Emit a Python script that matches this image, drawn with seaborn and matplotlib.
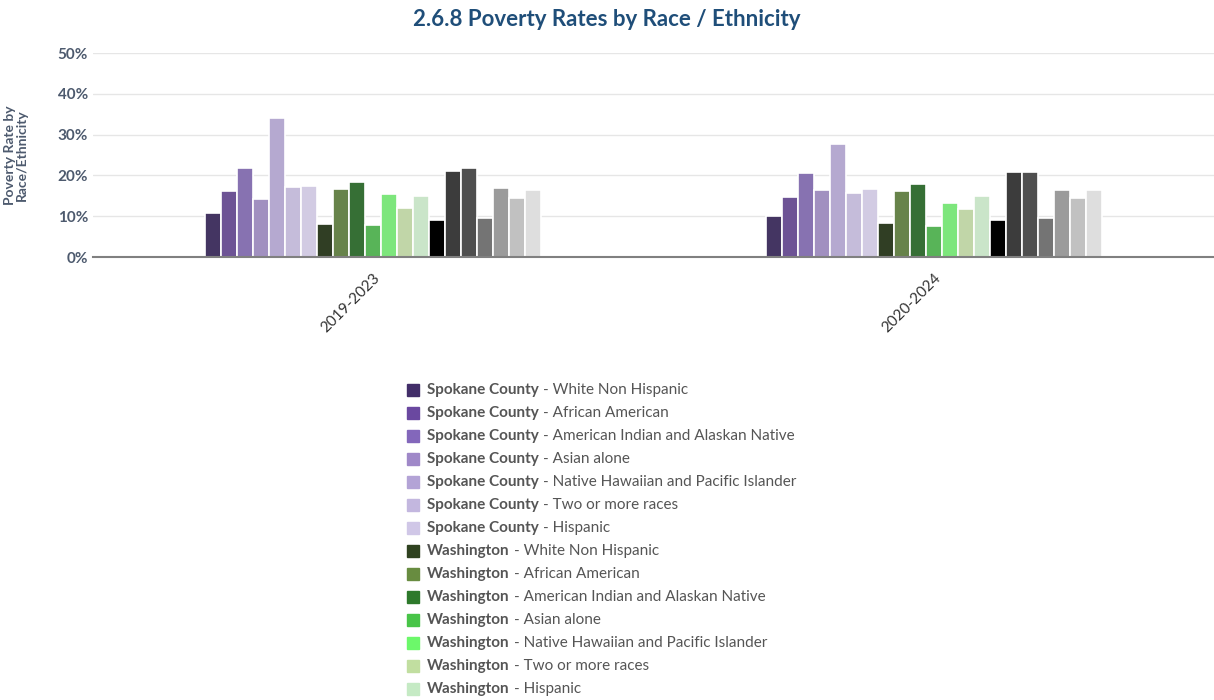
import pandas as pd
import seaborn as sns
import matplotlib.pyplot as plt
from matplotlib.ticker import PercentFormatter

periods = ['2019-2023', '2020-2024']
regions = ['Spokane County', 'Washington', 'United States']
races = ['White Non Hispanic', 'African American', 'American Indian and Alaskan Native',
         'Asian alone', 'Native Hawaiian and Pacific Islander', 'Two or more races', 'Hispanic']

values_2019 = [10.7, 16.1, 21.9, 14.1, 34.0, 17.1, 17.3,
               8.0, 16.6, 18.5, 7.8, 15.4, 12.0, 14.9,
               9.0, 21.1, 21.7, 9.6, 16.8, 14.4, 16.5]
values_2020 = [10.1, 14.6, 20.6, 16.3, 27.6, 15.8, 16.6,
               8.3, 16.1, 17.9, 7.7, 13.3, 11.7, 14.9,
               9.0, 20.9, 20.9, 9.6, 16.5, 14.4, 16.5]

colors = ['#422e69', '#6a48a0', '#8367bb', '#9f88c8', '#b3a3d6', '#c3b7df', '#d0c7e7',
          '#2f4220', '#688c40', '#2d792b', '#48c448', '#6cf86a', '#c1dea0', '#c5eac4',
          '#000000', '#3c3c3c', '#4f4f4f', '#747474', '#9b9b9b', '#c1c1c1', '#dedede']

series = [f'{r} - {s}' for r in regions for s in races]
df = pd.DataFrame({
    'period': [periods[0]] * 21 + [periods[1]] * 21,
    'series': series * 2,
    'value': values_2019 + values_2020,
})

sns.set_style('white')
plt.rcParams['font.family'] = ['Lato', 'DejaVu Sans']

fig = plt.figure(figsize=(12.14, 7.0), dpi=100)
ax = fig.add_axes([93 / 1214, 1 - 257 / 700, 1 - 93 / 1214, 204 / 700])

sns.barplot(data=df, x='period', y='value', hue='series', palette=colors,
            width=0.6, edgecolor='white', linewidth=1.2, legend=False, ax=ax)

ax.set_ylim(0, 50)
ax.set_yticks(range(0, 51, 10))
ax.yaxis.set_major_formatter(PercentFormatter(decimals=0))
ax.grid(axis='y', color='#e6e6e6', lw=1)
ax.set_axisbelow(True)
for s in ['top', 'right', 'left']:
    ax.spines[s].set_visible(False)
ax.spines['bottom'].set_color('#808080')
ax.spines['bottom'].set_linewidth(1.5)
ax.tick_params(axis='y', length=0, labelsize=11, labelcolor='#4d5a6e')
for t in ax.get_yticklabels():
    t.set_fontweight('bold')
ax.tick_params(axis='x', length=0, labelsize=11, labelcolor='#333333', pad=10)
plt.setp(ax.get_xticklabels(), rotation=45, ha='right', rotation_mode='anchor')
ax.set_xlabel('')
ax.set_ylabel('Poverty Rate by\nRace/Ethnicity', fontsize=10, fontweight='bold',
              color='#4d5a6e', linespacing=1.0)
ax.yaxis.set_label_coords(-0.058, 0.5)

fig.text(0.5, 0.972, '2.6.8 Poverty Rates by Race / Ethnicity', ha='center', va='center',
         fontsize=16, fontweight='bold', color='#1f4e79')

# legend drawn as a column of entries, cut off at the bottom like the original
y0 = 390
fig.canvas.draw()
for i, (r, s) in enumerate([(r, s) for r in regions for s in races]):
    y = 1 - (y0 + 23 * i) / 700
    if y < -0.02:
        break
    fig.patches.append(plt.Rectangle((407 / 1214, y - 6 / 700), 12 / 1214, 12 / 700,
                                     transform=fig.transFigure, color=colors[i]))
    t = fig.text(427 / 1214, y, r, fontsize=11, fontweight='bold', color='#555555', va='center')
    bb = t.get_window_extent(renderer=fig.canvas.get_renderer())
    fig.text((bb.x1 + 4) / 1214, y, f'- {s}', fontsize=11, color='#555555', va='center')

fig.savefig('out.png', dpi=100)
